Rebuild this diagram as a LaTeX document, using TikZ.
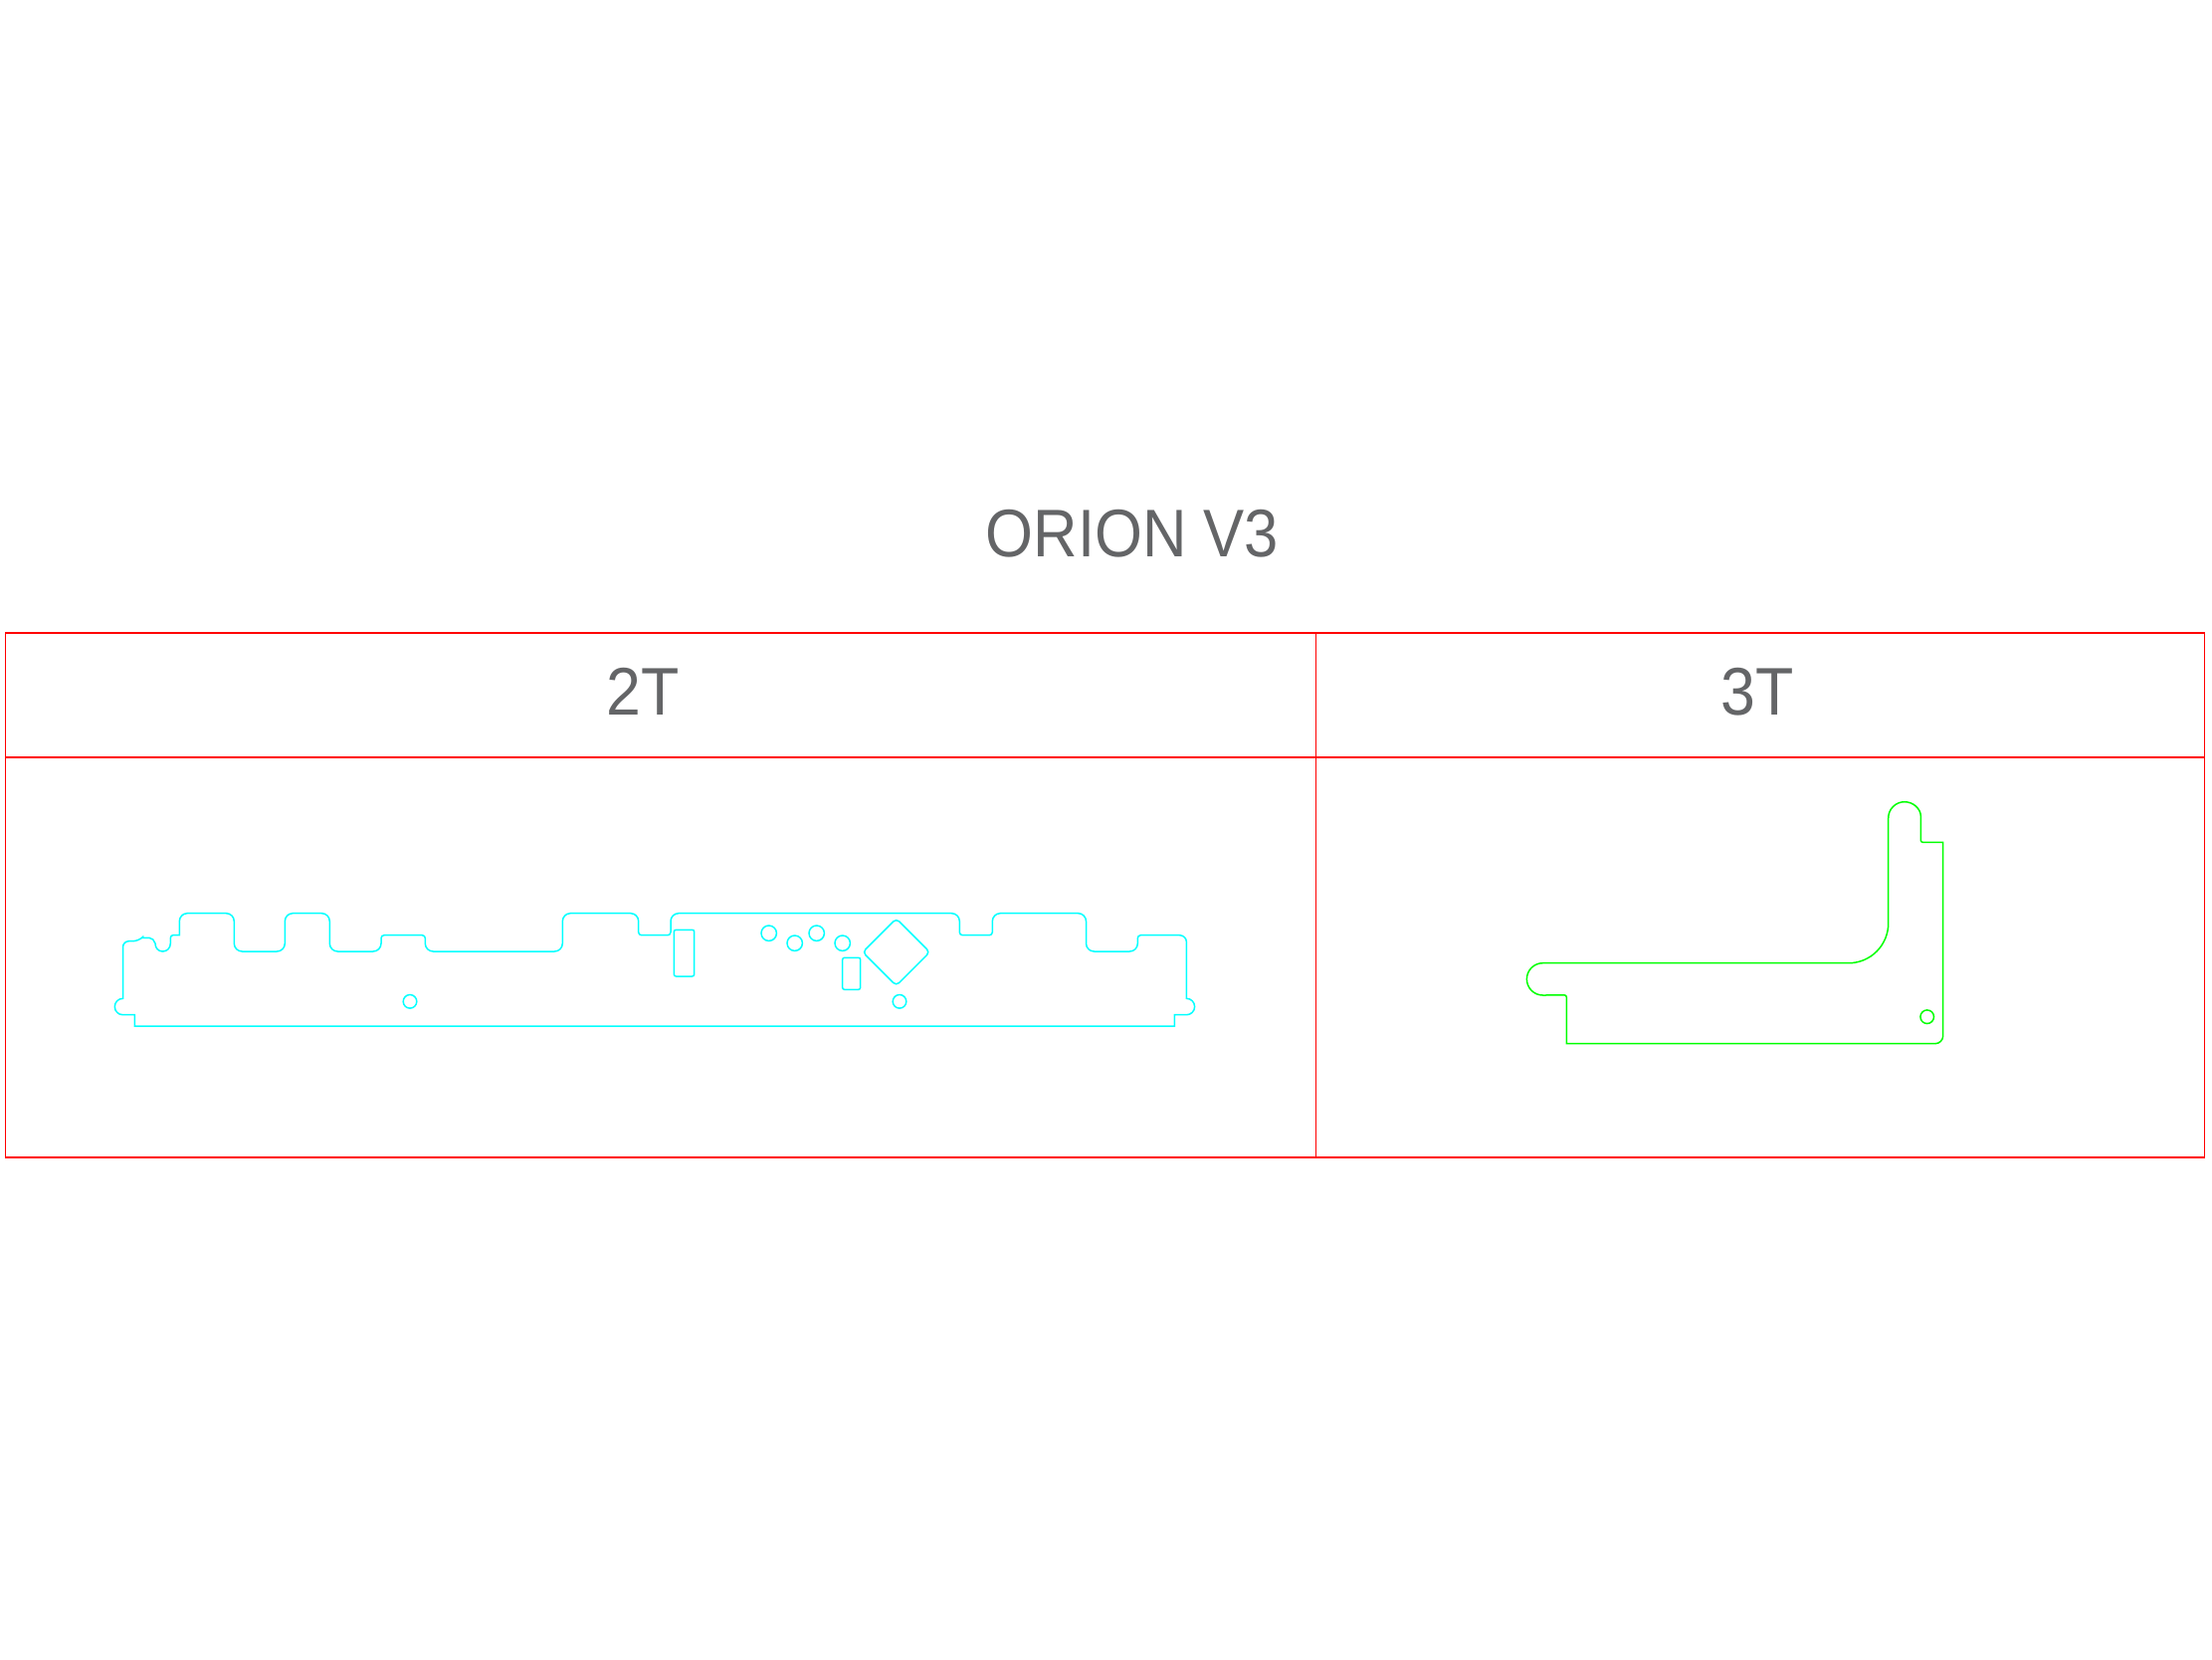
\documentclass[tikz,border=0pt]{standalone}
\usepackage{fontspec}
\usepackage{graphicx}
\setmainfont{Liberation Sans}
\definecolor{labelgray}{HTML}{646567}
\definecolor{cutcyan}{HTML}{00FFFF}
\definecolor{cutgreen}{HTML}{00FF00}
\definecolor{gridred}{HTML}{FF0000}
\tikzset{
  gridline/.style={draw=gridred,line width=1.6pt},
  cyanline/.style={draw=cutcyan,line width=1.5pt},
  greenline/.style={draw=cutgreen,line width=1.5pt},
  caption/.style={text=labelgray,anchor=base,inner sep=0pt,font=\fontsize{67.7}{80}\selectfont},
}
\begin{document}
\begin{tikzpicture}[x=1pt,y=-1pt]
\useasboundingbox (0,0) rectangle (2223,1667);
% table
\draw[gridline] (5.3,635.7) rectangle (2215.3,1162.7);
\draw[gridline] (5.3,761) -- (2215.3,761);
\draw[gridline] (1322.3,635.7) -- (1322.3,1162.7);
% captions
\node[caption] (title) at (1138,559) {\scalebox{0.91}[1]{ORION V3}};
\node[caption] (two) at (646,718) {\scalebox{0.925}[1]{2T}};
\node[caption] (three) at (1766,718) {\scalebox{0.925}[1]{3T}};
% 2T outline
\draw[cyanline] (135.3,1031) -- (135.3,1019.7) -- (123.5,1019.7)
  arc[start angle=270,end angle=90,radius=8.2pt]
  [rounded corners=6pt] -- (123.5,945.7) -- (139.3,945.7)
  [sharp corners] .. controls (142,943) and (144,942.3) .. (146,942.3)
  -- (150,942.3) .. controls (153,942.3) and (155,945) .. (156,948)
  .. controls (156,952.4) and (159,956) .. (163.5,956)
  .. controls (168,956) and (171.3,952.4) .. (171.3,948)
  [rounded corners=3pt] -- (171.3,939.5)
  [sharp corners] -- (180.3,939.5)
  [rounded corners=8pt] -- (180.3,917.7) -- (235.3,917.7) -- (235.3,956)
  -- (286.3,956) -- (286.3,917.7) -- (331.3,917.7) -- (331.3,956) -- (383,956)
  [rounded corners=3pt] -- (383,939.7) -- (427.3,939.7)
  [rounded corners=8pt] -- (427.3,956) -- (565.3,956) -- (565.3,917.7) -- (641.7,917.7)
  [rounded corners=3pt] -- (641.7,939.7) -- (674,939.7)
  [rounded corners=8pt] -- (674,917.7) -- (964.3,917.7)
  [rounded corners=3pt] -- (964.3,939.7) -- (997.3,939.7)
  [rounded corners=8pt] -- (997.3,917.7) -- (1091.5,917.7) -- (1091.5,956) -- (1143.3,956)
  [rounded corners=3pt] -- (1143.3,939.7)
  [rounded corners=7pt] -- (1192.4,939.7)
  [sharp corners] -- (1192.4,1003.3)
  arc[start angle=90,end angle=-90,radius=8.2pt]
  -- (1180.3,1019.7) -- (1180.3,1031) -- cycle;
% 2T cut-outs
\draw[cyanline,rounded corners=2pt] (677.3,934.3) rectangle (697.7,981);
\draw[cyanline,rounded corners=2pt] (846.7,962.3) rectangle (864.7,994.3);
\draw[cyanline] (772.7,937.7) circle[radius=7.7pt];
\draw[cyanline] (798.7,947.7) circle[radius=7.7pt];
\draw[cyanline] (820.7,937.7) circle[radius=7.7pt];
\draw[cyanline] (846.7,947.7) circle[radius=7.7pt];
\draw[cyanline] (412,1006.3) circle[radius=6.8pt];
\draw[cyanline] (904,1006.3) circle[radius=6.8pt];
\draw[cyanline,rounded corners=4pt] (900.7,923) -- (934.4,956.7) -- (900.7,990.4) -- (867,956.7) -- cycle;
% 3T outline
\draw[greenline] (1930.3,822) arc[start angle=0,end angle=180,radius=16.3pt]
  [rounded corners=40pt] -- (1897.7,967.7)
  [sharp corners] -- (1550.5,967.7)
  arc[start angle=90,end angle=270,radius=16.15pt]
  [rounded corners=2pt] -- (1574.3,999.9)
  [sharp corners] -- (1574.3,1048.7)
  [rounded corners=8pt] -- (1952.7,1048.7)
  [sharp corners] -- (1952.7,846.3)
  [rounded corners=2pt] -- (1930.3,846.3) -- cycle;
\draw[greenline] (1936.7,1021.7) circle[radius=6.8pt];
\end{tikzpicture}
\end{document}
